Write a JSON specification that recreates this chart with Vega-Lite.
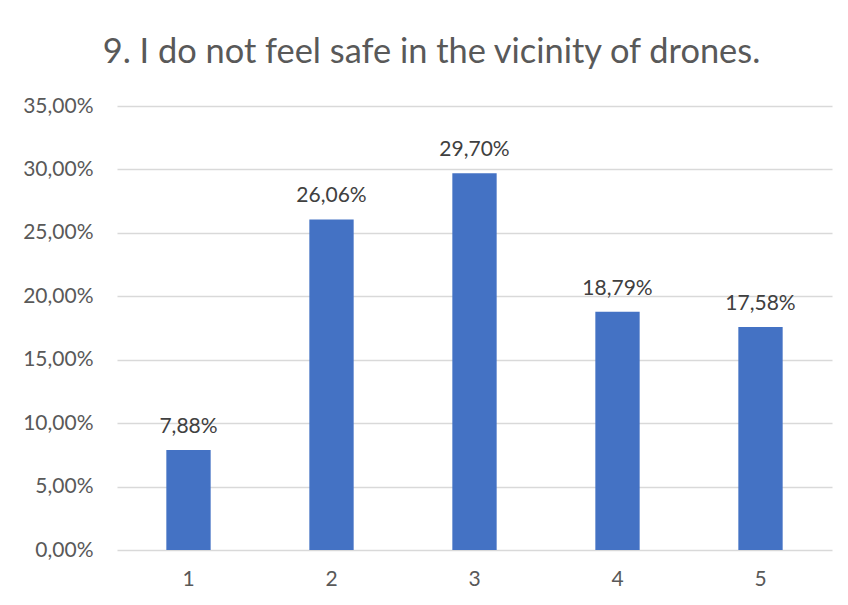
{
  "$schema": "https://vega.github.io/schema/vega-lite/v6.json",
  "width": 715,
  "height": 444,
  "autosize": {"type": "none"},
  "padding": {"left": 117, "top": 106, "right": 16, "bottom": 55},
  "background": "white",
  "config": {
    "locale": {"number": {"decimal": ",", "thousands": ".", "grouping": [3], "currency": ["", "€"]}},
    "view": {"stroke": null},
    "font": "Lato"
  },
  "title": {
    "text": "9. I do not feel safe in the vicinity of drones.",
    "font": "Lato",
    "fontSize": 34.4,
    "fontWeight": "normal",
    "color": "#595959",
    "anchor": "start",
    "dx": 80,
    "offset": 25
  },
  "data": {
    "values": [
      {"answer": "1", "share": 0.0788},
      {"answer": "2", "share": 0.2606},
      {"answer": "3", "share": 0.2970},
      {"answer": "4", "share": 0.1879},
      {"answer": "5", "share": 0.1758}
    ]
  },
  "encoding": {
    "x": {
      "field": "answer",
      "type": "ordinal",
      "scale": {"paddingInner": 0.69, "paddingOuter": 0.345},
      "axis": {
        "title": null,
        "labelAngle": 0,
        "labelFont": "Lato",
        "labelFontSize": 21,
        "labelColor": "#595959",
        "labelPadding": 18,
        "ticks": false,
        "domain": false
      }
    },
    "y": {
      "field": "share",
      "type": "quantitative",
      "scale": {"domain": [0, 0.35]},
      "axis": {
        "title": null,
        "values": [0, 0.05, 0.1, 0.15, 0.2, 0.25, 0.3, 0.35],
        "format": ".2%",
        "labelFont": "Lato",
        "labelFontSize": 21,
        "labelColor": "#595959",
        "labelPadding": 24,
        "ticks": false,
        "domain": false,
        "gridColor": "#d9d9d9",
        "gridWidth": 1.3
      }
    }
  },
  "layer": [
    {"mark": {"type": "bar", "color": "#4472C4"}},
    {
      "mark": {"type": "text", "dy": -17, "baseline": "alphabetic", "font": "Lato", "fontSize": 21, "color": "#404040"},
      "encoding": {"text": {"field": "share", "type": "quantitative", "format": ".2%"}}
    }
  ]
}
